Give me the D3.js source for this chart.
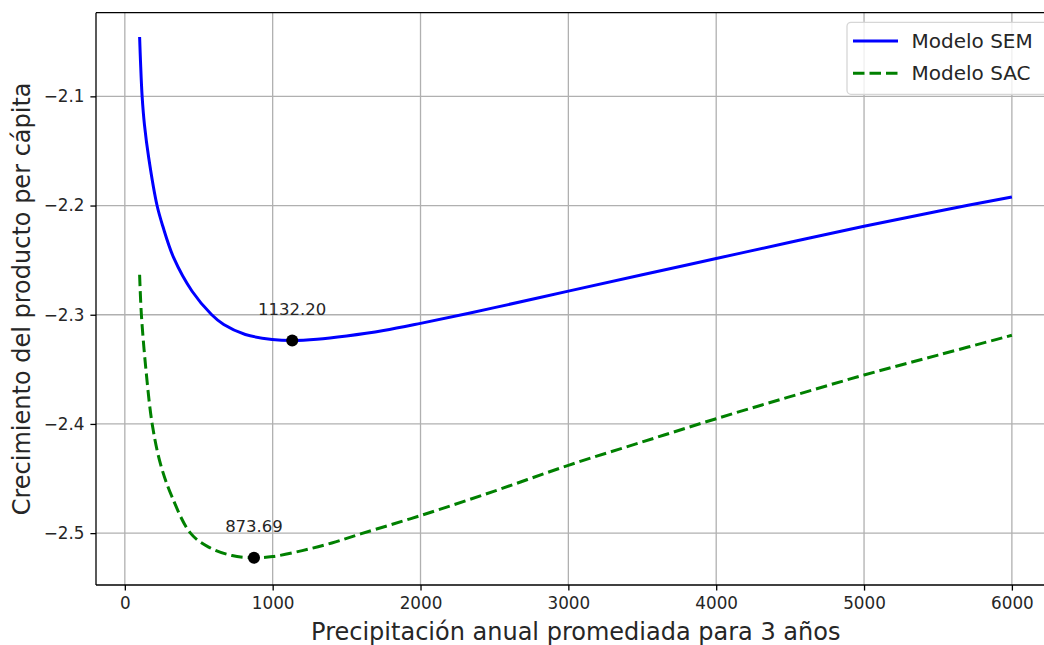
<!DOCTYPE html>
<html>
<head>
<meta charset="utf-8">
<script src="https://cdn.jsdelivr.net/npm/d3@7"></script>
<style>
  html, body { margin: 0; padding: 0; background: #ffffff; }
  svg { display: block; }
  text { font-family: "DejaVu Sans", sans-serif; fill: #262626; }
</style>
</head>
<body>
<svg id="chart" width="1044" height="645"></svg>
<script>
// ---------------- data ----------------
const seriesNames = ["Modelo SEM", "Modelo SAC"];

const semX = [100, 106, 117, 133, 162, 218, 257, 331, 455, 586, 669, 815, 996, 1132.2,
              1300, 1500, 1750, 2000, 2500, 3000, 3500, 4000, 4500, 5000, 5500, 6000];
const semY = [-2.0456, -2.0680, -2.1000, -2.1263, -2.1567, -2.2000, -2.2190, -2.2480, -2.2785,
              -2.2998, -2.3090, -2.3181, -2.3226, -2.3236,
              -2.3225, -2.3195, -2.3145, -2.3079, -2.2935, -2.2784, -2.2634, -2.2485, -2.2336,
              -2.2189, -2.2052, -2.1921];

const sacX = [100, 112, 144, 185, 241, 320, 444, 567, 725, 873.69,
              1000, 1200, 1400, 1600, 2000, 2500, 3000, 3500, 4000, 4500, 5000, 5500, 6000];
const sacY = [-2.2634, -2.3000, -2.3520, -2.4000, -2.4366, -2.4671, -2.5000, -2.5128, -2.5205, -2.5226,
              -2.5215, -2.5160, -2.5090, -2.5005, -2.4839, -2.4615, -2.4379, -2.4165, -2.3952,
              -2.3750, -2.3552, -2.3370, -2.3188];

const minX = [1132.20, 873.69];
const minY = [-2.3236, -2.5226];
const minLabels = ["1132.20", "873.69"];

const xTicks = [0, 1000, 2000, 3000, 4000, 5000, 6000];
const yTicks = [-2.1, -2.2, -2.3, -2.4, -2.5];
const xTickLabels = ["0", "1000", "2000", "3000", "4000", "5000", "6000"];
const yTickLabels = ["\u22122.1", "\u22122.2", "\u22122.3", "\u22122.4", "\u22122.5"];

const xLabel = "Precipitación anual promediada para 3 años";
const yLabel = "Crecimiento del producto per cápita";

// ---------------- layout ----------------
const L = 96, R = 1055.5, T = 12.7, B = 585;
const xDomain = [-195, 6295];
const yDomain = [-2.5475, -2.0234];

const svg = d3.select("#chart");
const x = d3.scaleLinear().domain(xDomain).range([L, R]);
const y = d3.scaleLinear().domain(yDomain).range([B, T]);

svg.append("rect").attr("width", 1044).attr("height", 645).attr("fill", "#fff");

// grid
const grid = svg.append("g");
grid.selectAll("line.gx").data(xTicks).enter().append("line")
  .attr("x1", d => x(d)).attr("x2", d => x(d)).attr("y1", T).attr("y2", B)
  .attr("stroke", "#b0b0b0").attr("stroke-width", 1.3);
grid.selectAll("line.gy").data(yTicks).enter().append("line")
  .attr("x1", L).attr("x2", R).attr("y1", d => y(d)).attr("y2", d => y(d))
  .attr("stroke", "#b0b0b0").attr("stroke-width", 1.3);

// axes
const xAxis = d3.axisBottom(x).tickValues(xTicks)
  .tickFormat((d, i) => xTickLabels[i]).tickSize(5.6).tickPadding(6);
const yAxis = d3.axisLeft(y).tickValues(yTicks)
  .tickFormat((d, i) => yTickLabels[i]).tickSize(5.6).tickPadding(6);

const gx = svg.append("g").attr("transform", `translate(0,${B})`).call(xAxis);
const gy = svg.append("g").attr("transform", `translate(${L},0)`).call(yAxis);
[gx, gy].forEach(g => {
  g.select(".domain").remove();
  g.selectAll(".tick line").attr("stroke", "#000").attr("stroke-width", 1.3);
  g.selectAll(".tick text").attr("font-family", "DejaVu Sans").attr("font-size", 16.8).attr("fill", "#262626");
});

// lines
svg.append("defs").append("clipPath").attr("id", "clip")
  .append("rect").attr("x", L).attr("y", T).attr("width", R - L).attr("height", B - T);
const plot = svg.append("g").attr("clip-path", "url(#clip)");

const semData = semX.map((d, i) => [d, semY[i]]);
const sacData = sacX.map((d, i) => [d, sacY[i]]);
const line = d3.line().x(d => x(d[0])).y(d => y(d[1])).curve(d3.curveCatmullRom.alpha(0.5));

plot.append("path").datum(semData).attr("d", line)
  .attr("fill", "none").attr("stroke", "#0000ff").attr("stroke-width", 3);
plot.append("path").datum(sacData).attr("d", line)
  .attr("fill", "none").attr("stroke", "#008000").attr("stroke-width", 3)
  .attr("stroke-dasharray", "11.5,5");

// minima
plot.selectAll("circle.m").data(minX).enter().append("circle")
  .attr("cx", d => x(d)).attr("cy", (d, i) => y(minY[i])).attr("r", 6).attr("fill", "#000");
svg.selectAll("text.ann").data(minLabels).enter().append("text")
  .attr("x", (d, i) => x(minX[i])).attr("y", (d, i) => y(minY[i]) - 25.5)
  .attr("text-anchor", "middle").attr("font-size", 16.5).text(d => d);

// spines
[[L, L, T, B], [R, R, T, B], [L, R, T, T], [L, R, B, B]].forEach(s => {
  svg.append("line").attr("x1", s[0]).attr("x2", s[1]).attr("y1", s[2]).attr("y2", s[3])
    .attr("stroke", "#000").attr("stroke-width", 1.3);
});

// axis labels
svg.append("text").attr("x", (L + R) / 2).attr("y", 640).attr("text-anchor", "middle")
  .attr("font-size", 24).text(xLabel);
svg.append("text").attr("transform", `translate(30,${(T + B) / 2}) rotate(-90)`)
  .attr("text-anchor", "middle").attr("font-size", 24).text(yLabel);

// legend
const lg = svg.append("g");
lg.append("rect").attr("x", 847).attr("y", 22.3).attr("width", 201).attr("height", 72)
  .attr("rx", 4).attr("fill", "#fff").attr("fill-opacity", 0.8)
  .attr("stroke", "#d6d6d6").attr("stroke-width", 1.3);
const legendColors = ["#0000ff", "#008000"];
const legendDash = [null, "11.5,5"];
const legendY = [41, 73.3];
seriesNames.forEach((n, i) => {
  lg.append("line").attr("x1", 853).attr("x2", 898).attr("y1", legendY[i]).attr("y2", legendY[i])
    .attr("stroke", legendColors[i]).attr("stroke-width", 3).attr("stroke-dasharray", legendDash[i]);
  lg.append("text").attr("x", 911.5).attr("y", legendY[i] + 7).attr("font-size", 20).text(n);
});
</script>
</body>
</html>
